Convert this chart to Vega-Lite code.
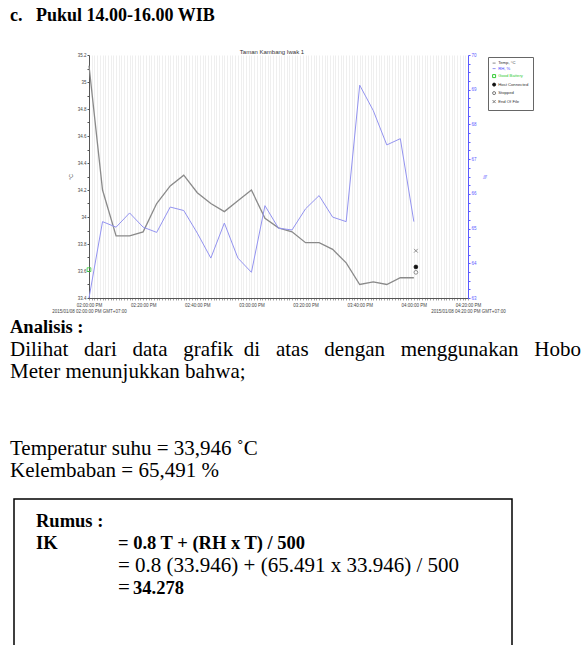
{
  "$schema": "https://vega.github.io/schema/vega-lite/v6.json",
  "width": 379,
  "height": 243,
  "padding": {"left": 10, "top": 6, "right": 5, "bottom": 5},
  "background": "white",
  "config": {"view": {"stroke": null}, "font": "Liberation Sans"},
  "title": {
    "text": "c.\u00a0\u00a0\u00a0Pukul 14.00-16.00 WIB",
    "anchor": "start",
    "frame": "bounds",
    "font": "Liberation Serif",
    "fontSize": 18,
    "fontWeight": "bold",
    "color": "#000000",
    "offset": 24
  },
  "datasets": {
    "readings": [
      {"time": "2015-01-08T14:00:00Z", "temp": 35.12, "rh": 63.0},
      {"time": "2015-01-08T14:05:00Z", "temp": 34.2, "rh": 65.2},
      {"time": "2015-01-08T14:10:00Z", "temp": 33.86, "rh": 65.04},
      {"time": "2015-01-08T14:15:00Z", "temp": 33.86, "rh": 65.45},
      {"time": "2015-01-08T14:20:00Z", "temp": 33.89, "rh": 65.04},
      {"time": "2015-01-08T14:25:00Z", "temp": 34.1, "rh": 64.89},
      {"time": "2015-01-08T14:30:00Z", "temp": 34.23, "rh": 65.62},
      {"time": "2015-01-08T14:35:00Z", "temp": 34.31, "rh": 65.52},
      {"time": "2015-01-08T14:40:00Z", "temp": 34.18, "rh": 64.87},
      {"time": "2015-01-08T14:45:00Z", "temp": 34.1, "rh": 64.15},
      {"time": "2015-01-08T14:50:00Z", "temp": 34.04, "rh": 65.16},
      {"time": "2015-01-08T14:55:00Z", "temp": 34.12, "rh": 64.15},
      {"time": "2015-01-08T15:00:00Z", "temp": 34.2, "rh": 63.74},
      {"time": "2015-01-08T15:05:00Z", "temp": 33.99, "rh": 65.66},
      {"time": "2015-01-08T15:10:00Z", "temp": 33.92, "rh": 65.01},
      {"time": "2015-01-08T15:15:00Z", "temp": 33.89, "rh": 64.96},
      {"time": "2015-01-08T15:20:00Z", "temp": 33.81, "rh": 65.57},
      {"time": "2015-01-08T15:25:00Z", "temp": 33.81, "rh": 65.95},
      {"time": "2015-01-08T15:30:00Z", "temp": 33.76, "rh": 65.33},
      {"time": "2015-01-08T15:35:00Z", "temp": 33.66, "rh": 65.2},
      {"time": "2015-01-08T15:40:00Z", "temp": 33.5, "rh": 69.13},
      {"time": "2015-01-08T15:45:00Z", "temp": 33.52, "rh": 68.4},
      {"time": "2015-01-08T15:50:00Z", "temp": 33.5, "rh": 67.41},
      {"time": "2015-01-08T15:55:00Z", "temp": 33.55, "rh": 67.59},
      {"time": "2015-01-08T16:00:00Z", "temp": 33.55, "rh": 65.2}
    ],
    "events": [
      {"time": "2015-01-08T14:00:00Z", "event": "Good Battery", "level": 33.61},
      {"time": "2015-01-08T16:00:45Z", "event": "End Of File", "level": 33.75},
      {"time": "2015-01-08T16:00:45Z", "event": "Host Connected", "level": 33.63},
      {"time": "2015-01-08T16:00:45Z", "event": "Stopped", "level": 33.59}
    ],
    "doc": [
      {"line": 2, "indent": 0, "role": "heading", "text": "Analisis :"},
      {"line": 3, "indent": 0, "role": "body", "text": "Dilihat \u00a0\u00a0dari \u00a0\u00a0data \u00a0\u00a0grafik \u00a0di \u00a0\u00a0atas \u00a0\u00a0dengan \u00a0\u00a0menggunakan \u00a0\u00a0Hobo"},
      {"line": 4, "indent": 0, "role": "body", "text": "Meter menunjukkan bahwa;"},
      {"line": 6, "indent": 0, "role": "body", "text": "Temperatur suhu = 33,946 ˚C"},
      {"line": 7, "indent": 0, "role": "body", "text": "Kelembaban = 65,491 %"},
      {"line": 9, "indent": 1, "role": "heading", "text": "Rumus :"},
      {"line": 10, "indent": 1, "role": "heading", "text": "IK"},
      {"line": 10, "indent": 2, "role": "heading", "text": "= 0.8 T + (RH x T) / 500"},
      {"line": 11, "indent": 2, "role": "body", "text": "= 0.8 (33.946) + (65.491 x 33.946) / 500"},
      {"line": 12, "indent": 2, "role": "body", "text": "="},
      {"line": 12, "indent": 3, "role": "heading", "text": "34.278"}
    ]
  },
  "layer": [
    {
      "encoding": {
        "x": {
          "field": "time",
          "type": "temporal",
          "scale": {
            "type": "utc",
            "domain": [
              {"year": 2015, "month": 1, "date": 8, "hours": 14, "minutes": 0, "utc": true},
              {"year": 2015, "month": 1, "date": 8, "hours": 16, "minutes": 20, "utc": true}
            ]
          },
          "axis": {
            "title": null,
            "tickCount": 140,
            "grid": true,
            "gridColor": "#e4e4e4",
            "gridWidth": 0.6,
            "domainColor": "#555555",
            "tickColor": "#666666",
            "tickSize": 2,
            "tickWidth": 0.6,
            "labelFontSize": 4.5,
            "labelColor": "#444444",
            "labelPadding": 2,
            "labelLineHeight": 6,
            "labelOverlap": false,
            "labelFlush": false,
            "labelBound": false,
            "labelExpr": "utcminutes(datum.value) % 20 != 0 ? '' : ((utchours(datum.value) == 14 && utcminutes(datum.value) == 0) || (utchours(datum.value) == 16 && utcminutes(datum.value) == 20)) ? [utcFormat(datum.value, '%I:%M:%S %p'), utcFormat(datum.value, '%Y/%m/%d %I:%M:%S %p') + ' GMT+07:00'] : utcFormat(datum.value, '%I:%M:%S %p')"
          }
        }
      },
      "layer": [
        {
          "layer": [
            {
              "data": {"name": "readings"},
              "mark": {"type": "line", "strokeWidth": 1.3},
              "encoding": {
                "y": {
                  "field": "temp",
                  "type": "quantitative",
                  "scale": {"domain": [33.4, 35.2], "nice": false, "zero": false},
                  "axis": {
                    "orient": "left",
                    "title": "°C",
                    "values": [33.4, 33.5, 33.6, 33.7, 33.8, 33.9, 34, 34.1, 34.2, 34.3, 34.4, 34.5, 34.6, 34.7, 34.8, 34.9, 35, 35.1, 35.2],
                    "labelExpr": "round(datum.value * 10) % 2 == 0 ? '' + datum.value : ''",
                    "grid": false,
                    "domainColor": "#555555",
                    "tickColor": "#555555",
                    "tickSize": 2,
                    "labelFontSize": 4.5,
                    "labelColor": "#444444",
                    "labelPadding": 1,
                    "labelOverlap": false,
                    "titleFontSize": 5,
                    "titleFontWeight": "normal",
                    "titleColor": "#444444",
                    "titlePadding": 4
                  }
                },
                "color": {
                  "datum": "Temp, °C",
                  "title": null,
                  "scale": {
                    "domain": ["Temp, °C", "RH, %", "Good Battery", "Host Connected", "Stopped", "End Of File"],
                    "range": ["#8a8a8a", "#9393f0", "#33cc33", "#111111", "#777777", "#777777"]
                  },
                  "legend": {
                    "orient": "none",
                    "legendX": 399,
                    "legendY": 2,
                    "title": null,
                    "direction": "vertical",
                    "labelFontSize": 4.2,
                    "labelColor": "#333333",
                    "labelOffset": 2,
                    "symbolSize": 9,
                    "symbolStrokeWidth": 1,
                    "rowPadding": 0.5,
                    "padding": 4,
                    "strokeColor": "#666666",
                    "fillColor": "white",
                    "encode": {
                      "symbols": {
                        "update": {
                          "shape": {"signal": "datum.value == 'Temp, °C' || datum.value == 'RH, %' ? 'stroke' : datum.value == 'Good Battery' ? 'square' : datum.value == 'End Of File' ? 'M-1,-1L1,1M1,-1L-1,1' : 'circle'"},
                          "fill": {"signal": "datum.value == 'Host Connected' ? '#111111' : 'transparent'"},
                          "stroke": {"signal": "datum.value == 'Temp, °C' ? '#555555' : datum.value == 'RH, %' ? '#4444ff' : datum.value == 'Good Battery' ? '#33cc33' : '#555555'"}
                        }
                      },
                      "labels": {
                        "update": {
                          "fill": {"signal": "datum.value == 'RH, %' ? '#4444ff' : datum.value == 'Good Battery' ? '#33cc33' : '#333333'"}
                        }
                      }
                    }
                  }
                }
              }
            },
            {
              "data": {"name": "events"},
              "mark": {"type": "point", "filled": false, "size": 14, "strokeWidth": 0.8, "opacity": 1},
              "encoding": {
                "y": {
                  "field": "level",
                  "type": "quantitative",
                  "axis": {
                    "orient": "left",
                    "title": "°C",
                    "values": [33.4, 33.5, 33.6, 33.7, 33.8, 33.9, 34, 34.1, 34.2, 34.3, 34.4, 34.5, 34.6, 34.7, 34.8, 34.9, 35, 35.1, 35.2],
                    "labelExpr": "round(datum.value * 10) % 2 == 0 ? '' + datum.value : ''",
                    "grid": false,
                    "domainColor": "#555555",
                    "tickColor": "#555555",
                    "tickSize": 2,
                    "labelFontSize": 4.5,
                    "labelColor": "#444444",
                    "labelPadding": 1,
                    "labelOverlap": false,
                    "titleFontSize": 5,
                    "titleFontWeight": "normal",
                    "titleColor": "#444444",
                    "titlePadding": 4
                  }
                },
                "color": {"field": "event", "type": "nominal", "title": null},
                "shape": {
                  "field": "event",
                  "type": "nominal",
                  "scale": {
                    "domain": ["Good Battery", "Host Connected", "Stopped", "End Of File"],
                    "range": ["square", "circle", "circle", "M-1,-1L1,1M1,-1L-1,1"]
                  },
                  "legend": null
                },
                "fill": {
                  "field": "event",
                  "type": "nominal",
                  "scale": {
                    "domain": ["Good Battery", "Host Connected", "Stopped", "End Of File"],
                    "range": ["transparent", "#111111", "transparent", "transparent"]
                  },
                  "legend": null
                }
              }
            }
          ]
        },
        {
          "data": {"name": "readings"},
          "mark": {"type": "line", "strokeWidth": 1},
          "encoding": {
            "y": {
              "field": "rh",
              "type": "quantitative",
              "scale": {"domain": [63, 70], "nice": false, "zero": false},
              "axis": {
                "orient": "right",
                "title": "%",
                "values": [63, 63.25, 63.5, 63.75, 64, 64.25, 64.5, 64.75, 65, 65.25, 65.5, 65.75, 66, 66.25, 66.5, 66.75, 67, 67.25, 67.5, 67.75, 68, 68.25, 68.5, 68.75, 69, 69.25, 69.5, 69.75, 70],
                "labelExpr": "datum.value % 1 == 0 ? '' + datum.value : ''",
                "grid": false,
                "domainColor": "#5b5bff",
                "tickColor": "#5b5bff",
                "tickSize": 2,
                "labelFontSize": 4.5,
                "labelColor": "#5b5bff",
                "labelPadding": 1,
                "labelOverlap": false,
                "titleFontSize": 5,
                "titleFontWeight": "normal",
                "titleColor": "#5b5bff",
                "titlePadding": 5
              }
            },
            "color": {"datum": "RH, %"}
          }
        }
      ],
      "resolve": {"scale": {"y": "independent"}}
    },
    {
      "data": {"values": [{"chart": "Taman Kambang Iwak 1"}]},
      "mark": {"type": "text", "fontSize": 6, "color": "#333333", "baseline": "bottom", "align": "center", "font": "Liberation Sans"},
      "encoding": {
        "x": {"datum": 0.5, "type": "quantitative", "scale": {"domain": [0, 1], "range": [0, 366], "zero": false, "nice": false}, "axis": null},
        "y": {"datum": 0, "type": "quantitative", "scale": {"domain": [0, 1], "range": [-0.5, 10], "zero": false, "nice": false}, "axis": null},
        "text": {"field": "chart", "type": "nominal"}
      }
    },
    {
      "data": {"name": "doc"},
      "encoding": {
        "x": {
          "field": "indent",
          "type": "quantitative",
          "scale": {"domain": [0, 1, 2, 3], "range": [-79, -53, 29, 44], "zero": false, "nice": false},
          "axis": null
        },
        "y": {
          "field": "line",
          "type": "quantitative",
          "scale": {"domain": [2, 4, 6, 7, 9, 12], "range": [278, 323, 400, 422, 472, 539], "zero": false, "nice": false},
          "axis": null
        },
        "text": {"field": "text", "type": "nominal"}
      },
      "layer": [
        {
          "transform": [{"filter": "datum.role == 'heading'"}],
          "mark": {"type": "text", "align": "left", "baseline": "alphabetic", "font": "Liberation Serif", "fontSize": 18.5, "fontWeight": "bold", "color": "#000000"}
        },
        {
          "transform": [{"filter": "datum.role == 'body'"}],
          "mark": {"type": "text", "align": "left", "baseline": "alphabetic", "font": "Liberation Serif", "fontSize": 21, "fontWeight": "normal", "color": "#000000"}
        }
      ]
    },
    {
      "data": {"values": [{"frame": "Rumus"}]},
      "mark": {"type": "rect", "fill": "transparent", "stroke": "#000000", "strokeWidth": 1.5},
      "encoding": {
        "x": {"datum": 0, "type": "quantitative", "scale": {"domain": [0, 1], "range": [-75, 423], "zero": false, "nice": false}, "axis": null},
        "x2": {"datum": 1},
        "y": {"datum": 0, "type": "quantitative", "scale": {"domain": [0, 1], "range": [444, 607], "zero": false, "nice": false}, "axis": null},
        "y2": {"datum": 1}
      }
    }
  ],
  "resolve": {"scale": {"x": "independent", "y": "independent"}}
}
